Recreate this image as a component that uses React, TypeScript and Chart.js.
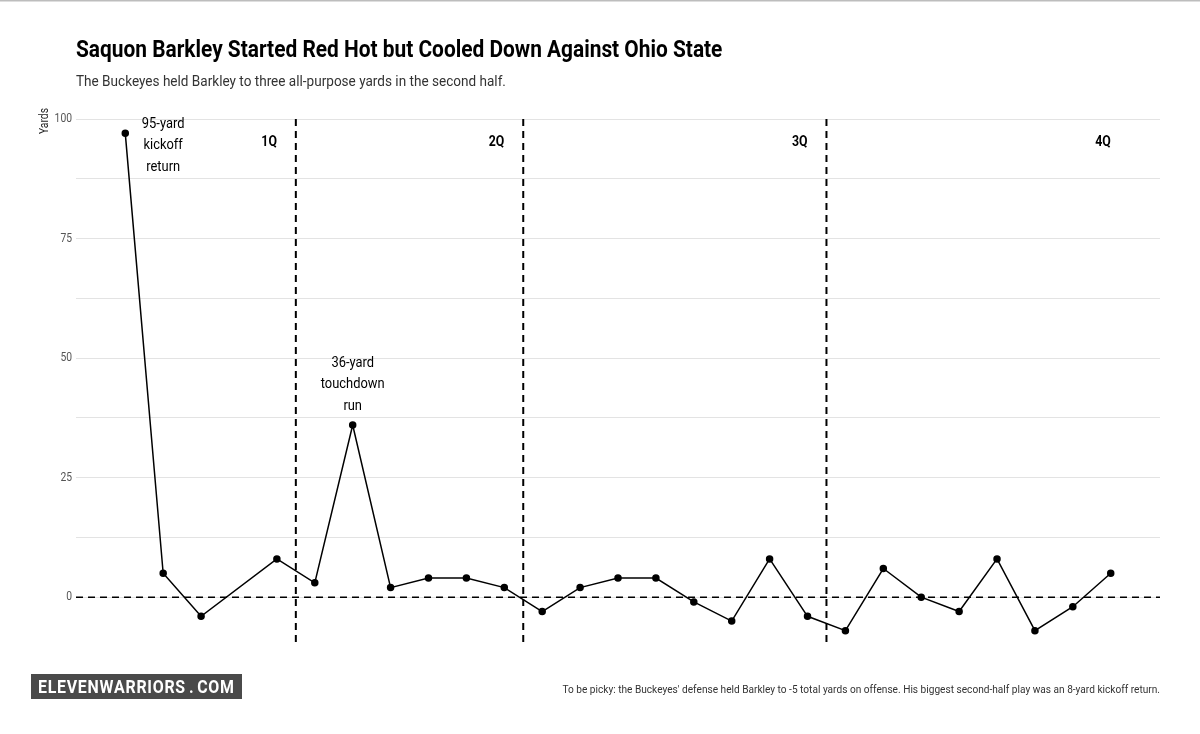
import React, { useEffect, useRef } from "react";
import { Chart, registerables } from "chart.js";

Chart.register(...registerables);

const playNumbers = [1, 2, 3, 5, 6, 7, 8, 9, 10, 11, 12, 13, 14, 15, 16, 17, 18, 19, 20, 21, 22, 23, 24, 25, 26, 27];
const yards = [97, 5, -4, 8, 3, 36, 2, 4, 4, 2, -3, 2, 4, 4, -1, -5, 8, -4, -7, 6, 0, -3, 8, -7, -2, 5];
const quarterBreaks = [5.5, 11.5, 19.5];
const quarterLabels = ["1Q", "2Q", "3Q", "4Q"];
const quarterLabelX = [5, 11, 19, 27];
const quarterLabelY = 95;
const yTickLabels = [0, 25, 50, 75, 100];
const annotations = [
  { x: 2, y: 94.5, lines: ["95-yard", "kickoff", "return"] },
  { x: 7, y: 44.5, lines: ["36-yard", "touchdown", "run"] },
];
const xMin = -0.3;
const xMax = 28.3;
const yMin = -10;
const yMax = 100;

const FONT = "Roboto, 'Noto Sans', sans-serif";
const TITLE = "Saquon Barkley Started Red Hot but Cooled Down Against Ohio State";
const SUBTITLE = "The Buckeyes held Barkley to three all-purpose yards in the second half.";
const CAPTION =
  "To be picky: the Buckeyes' defense held Barkley to -5 total yards on offense. His biggest second-half play was an 8-yard kickoff return.";
const LOGO = "ELEVENWARRIORS.COM";

// draw horizontally condensed text
function drawText(ctx: any, text: string, x: number, y: number, font: string, sx: number, align: string, baseline: string, color: string) {
  ctx.save();
  ctx.font = font;
  ctx.fillStyle = color;
  ctx.textBaseline = baseline;
  ctx.textAlign = "left";
  const w = ctx.measureText(text).width * sx;
  let left = x;
  if (align === "center") left = x - w / 2;
  else if (align === "right") left = x - w;
  ctx.translate(left, y);
  ctx.scale(sx, 1);
  ctx.fillText(text, 0, 0);
  ctx.restore();
}

const textPlugin = {
  id: "textPlugin",
  afterDatasetsDraw(chart: any) {
    const { ctx, scales } = chart;
    const xs = scales.x;
    const ys = scales.y;
    quarterLabels.forEach((q, i) => {
      drawText(ctx, q, xs.getPixelForValue(quarterLabelX[i]), ys.getPixelForValue(quarterLabelY), `bold 14px ${FONT}`, 0.88, "right", "middle", "#000");
    });
    annotations.forEach((a) => {
      const cx = xs.getPixelForValue(a.x);
      const cy = ys.getPixelForValue(a.y);
      const lh = 21.5;
      a.lines.forEach((l, i) => {
        drawText(ctx, l, cx, cy + (i - (a.lines.length - 1) / 2) * lh, `15px ${FONT}`, 0.86, "center", "middle", "#000");
      });
    });
    // y tick labels
    yTickLabels.forEach((v) => {
      drawText(ctx, String(v), 72, ys.getPixelForValue(v), `12px ${FONT}`, 0.86, "right", "middle", "#555");
    });
  },
  afterDraw(chart: any) {
    const { ctx, scales } = chart;
    const ys = scales.y;
    ctx.save();
    ctx.fillStyle = "#bdbdbd";
    ctx.fillRect(0, 0, 1200, 1.5);
    ctx.restore();
    drawText(ctx, TITLE, 76, 57, `bold 24px ${FONT}`, 0.87, "left", "alphabetic", "#000");
    drawText(ctx, SUBTITLE, 76, 86, `15.5px ${FONT}`, 0.875, "left", "alphabetic", "#333");
    // y axis title
    ctx.save();
    ctx.translate(48, ys.getPixelForValue(100) - 11);
    ctx.rotate(-Math.PI / 2);
    drawText(ctx, "Yards", 0, 0, `12px ${FONT}`, 0.86, "right", "alphabetic", "#222");
    ctx.restore();
    drawText(ctx, CAPTION, 1160, 693, `11.5px ${FONT}`, 0.88, "right", "alphabetic", "#333");
    // logo
    ctx.save();
    ctx.fillStyle = "#4a4a4a";
    ctx.fillRect(31, 674, 211, 25);
    const logoFont = `bold 18.5px ${FONT}`;
    ctx.font = logoFont;
    const sx = 0.86;
    const widths = Array.from(LOGO).map((c) => ctx.measureText(c).width * sx);
    const natural = widths.reduce((a, b) => a + b, 0);
    const dotExtra = 6;
    const spacing = (196 - natural - dotExtra) / (LOGO.length - 1);
    let x = 38;
    Array.from(LOGO).forEach((c, i) => {
      if (c === ".") x += dotExtra / 2;
      drawText(ctx, c, x, 693, logoFont, sx, "left", "alphabetic", "#fff");
      x += widths[i] + spacing;
      if (c === ".") x += dotExtra / 2;
    });
    ctx.restore();
  },
};

function App() {
  const ref = useRef<HTMLCanvasElement | null>(null);
  useEffect(() => {
    if (!ref.current) return;
    const lineData = playNumbers.map((p, i) => ({ x: p, y: yards[i] }));
    const refSets = quarterBreaks.map((b) => ({
      data: [
        { x: b, y: yMax },
        { x: b, y: yMin },
      ],
      borderColor: "#000",
      borderWidth: 2,
      borderDash: [7, 5],
      pointRadius: 0,
      showLine: true,
      order: 2,
    }));
    const chart = new Chart(ref.current, {
      type: "scatter",
      data: {
        datasets: [
          {
            data: [
              { x: xMin, y: 0 },
              { x: xMax, y: 0 },
            ],
            borderColor: "#000",
            borderWidth: 1.5,
            borderDash: [7, 5],
            pointRadius: 0,
            showLine: true,
            order: 3,
          } as any,
          ...refSets,
          {
            data: lineData,
            borderColor: "#000",
            backgroundColor: "#000",
            borderWidth: 1.5,
            pointRadius: 3,
            pointHoverRadius: 3,
            showLine: true,
            order: 1,
          },
        ],
      },
      options: {
        animation: false,
        responsive: false,
        maintainAspectRatio: false,
        layout: { padding: { top: 119, bottom: 89, right: 40, left: 0 } },
        plugins: { legend: { display: false }, tooltip: { enabled: false } },
        scales: {
          x: { type: "linear", min: xMin, max: xMax, display: false },
          y: {
            type: "linear",
            min: yMin,
            max: yMax,
            afterBuildTicks: (scale: any) => {
              const t = [];
              for (let v = 0; v <= 100; v += 12.5) t.push({ value: v });
              scale.ticks = t;
            },
            afterFit: (scale: any) => {
              scale.width = 76;
            },
            border: { display: false },
            grid: { color: "#e3e3e3", lineWidth: 1, drawTicks: false },
            ticks: { display: false },
          },
        },
      },
      plugins: [textPlugin],
    });
    return () => chart.destroy();
  }, []);
  return (
    <div style={{ position: "absolute", left: 0, top: 0, width: 1200, height: 734, background: "#fff" }}>
      <canvas ref={ref} width={1200} height={734} style={{ display: "block" }} />
    </div>
  );
}

export default App;
